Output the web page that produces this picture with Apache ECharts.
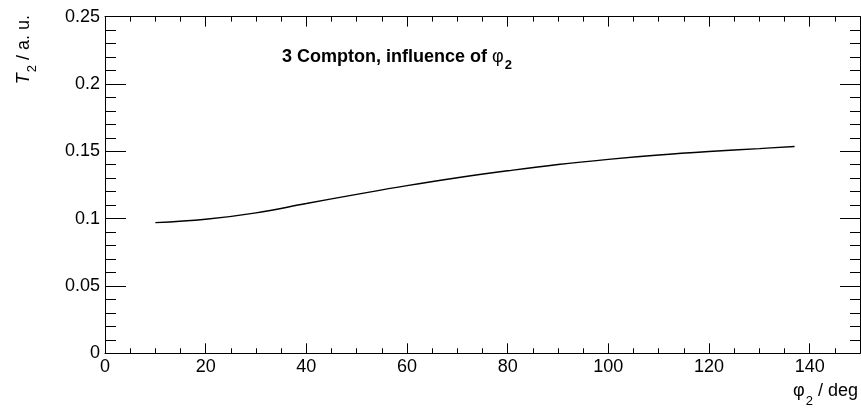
<!DOCTYPE html>
<html><head><meta charset="utf-8">
<script src="https://cdn.jsdelivr.net/npm/echarts@6/dist/echarts.min.js"></script>
<style>html,body{margin:0;padding:0;background:#fff}#c{width:861px;height:415px}</style>
</head><body><div id="c"></div>
<script>
const phi2 = [10, 20, 30, 40, 50, 60, 70, 80, 90, 100, 110, 120, 130, 137];
const T2 = [0.097, 0.0995, 0.1043, 0.1112, 0.1180, 0.1245, 0.1303, 0.1355, 0.1402, 0.1440, 0.1472, 0.1498, 0.1520, 0.1536];
const xRange = [0, 150];
const yRange = [0, 0.25];
const titleText = '3 Compton, influence of ';

const FONT = 'Liberation Sans, Arial, Helvetica, sans-serif';
const chart = echarts.init(document.getElementById('c'), null, {renderer: 'canvas'});
const lc = '#000';
function xAx(pos, interval, len, labels, line) {
  return {
    type: 'value', position: pos, min: xRange[0], max: xRange[1], interval: interval,
    axisLine: {show: line, onZero: false, lineStyle: {color: lc, width: 1}},
    axisTick: {show: true, inside: true, length: len, lineStyle: {color: lc, width: 1}},
    axisLabel: {show: labels, color: '#000', fontSize: 18, fontFamily: FONT, margin: 5, showMaxLabel: false},
    splitLine: {show: false}
  };
}
function yAx(pos, len, mlen, labels) {
  return {
    type: 'value', position: pos, min: yRange[0], max: yRange[1], interval: 0.05,
    axisLine: {show: true, onZero: false, lineStyle: {color: lc, width: 1}},
    axisTick: {show: true, inside: true, length: len, lineStyle: {color: lc, width: 1}},
    minorTick: {show: true, splitNumber: 5, length: mlen, lineStyle: {color: lc, width: 1}},
    axisLabel: {show: labels, color: '#000', fontSize: 18, fontFamily: FONT, margin: 5},
    splitLine: {show: false}
  };
}
const option = {
  animation: false,
  backgroundColor: '#fff',
  grid: {left: 105, right: 1, top: 16.6, bottom: 61.7, containLabel: false},
  xAxis: [
    xAx('bottom', 20, 10, true, true),
    xAx('bottom', 5, 5, false, false),
    xAx('top', 20, 10, false, true),
    xAx('top', 5, 5, false, false)
  ],
  yAxis: [
    yAx('left', 21, 11, true),
    yAx('right', 20, 10, false)
  ],
  series: [{
    type: 'line', xAxisIndex: 0, yAxisIndex: 0,
    data: phi2.map((x, i) => [x, T2[i]]),
    smooth: 0.4, showSymbol: false, symbol: 'none',
    lineStyle: {color: '#000', width: 1.4}
  }],
  graphic: [
    {type: 'text', x: 282, y: 57, style: {
      text: '{b|' + titleText + '}{p|φ}{s|2}', verticalAlign: 'middle',
      rich: {
        b: {fontFamily: FONT, fontWeight: 'bold', fontSize: 18, fill: '#000'},
        p: {fontFamily: FONT, fontSize: 18, fill: '#000'},
        s: {fontFamily: FONT, fontWeight: 'bold', fontSize: 13, fill: '#000', padding: [16, 0, 0, 1]}
      }}},
    {type: 'text', x: 858, y: 391, style: {
      text: '{p|φ}{s|2}{n| / deg}', align: 'right', verticalAlign: 'middle',
      rich: {
        p: {fontFamily: FONT, fontSize: 18, fill: '#000'},
        s: {fontFamily: FONT, fontSize: 13, fill: '#000', padding: [20, 0, 0, 1]},
        n: {fontFamily: FONT, fontSize: 18, fill: '#000'}
      }}},
    {type: 'text', x: 24, y: 15, rotation: Math.PI / 2, style: {
      text: '{i|T}{s|2}{n| / a. u.}', align: 'right', verticalAlign: 'middle',
      rich: {
        i: {fontFamily: FONT, fontSize: 18, fontStyle: 'italic', fill: '#000'},
        s: {fontFamily: FONT, fontSize: 13, fill: '#000', padding: [16, 0, 0, 1]},
        n: {fontFamily: FONT, fontSize: 18, fill: '#000'}
      }}}
  ]
};
chart.setOption(option);
</script>
</body></html>
